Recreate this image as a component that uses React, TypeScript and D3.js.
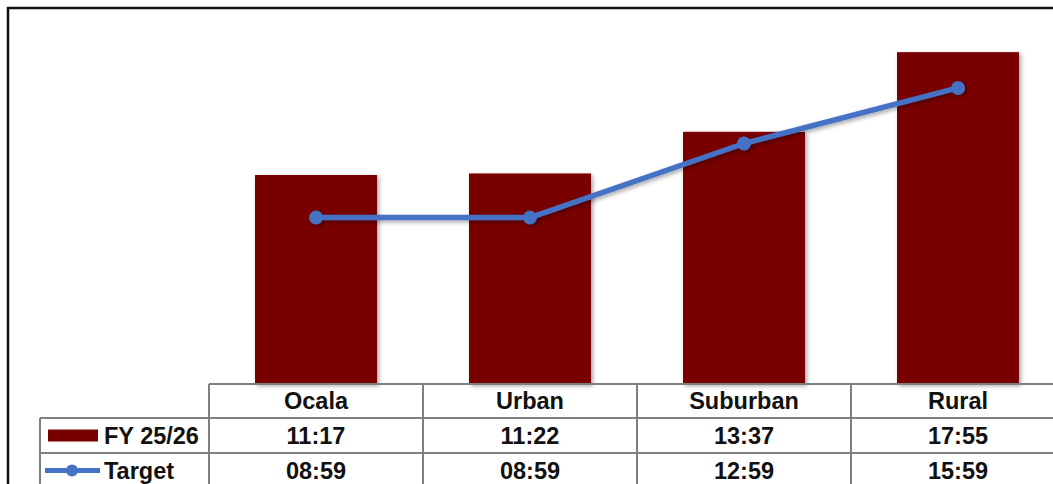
import React from "react";
import * as d3 from "d3";

const categories = ["Ocala", "Urban", "Suburban", "Rural"];
const fyLabels = ["11:17", "11:22", "13:37", "17:55"];
const targetLabels = ["08:59", "08:59", "12:59", "15:59"];
const seriesNames = ["FY 25/26", "Target"];

const toSec = (s: string) => {
  const [m, sec] = s.split(":").map(Number);
  return m * 60 + sec;
};

const W = 1053;
const H = 484;
const plotLeft = 209;
const plotRight = 1065;
const baseY = 384;
const rowTops = [384, 418, 453, 488];
const labelLeft = 40;

export default function App() {
  const x = d3.scaleBand<string>().domain(categories).range([plotLeft, plotRight]).paddingInner(0.43).paddingOuter(0.215);
  const colX = d3.scaleBand<string>().domain(categories).range([plotLeft, plotRight]);
  const y = d3.scaleLinear().domain([0, 1200]).range([baseY, baseY - 1200 * 0.3087]);
  const fy = fyLabels.map(toSec);
  const tg = targetLabels.map(toSec);
  const line = d3
    .line<number>()
    .x((_, i) => (colX(categories[i]) as number) + colX.bandwidth() / 2)
    .y((d) => y(d));
  const red = "#780000";
  const blue = "#4472C4";
  const grid = "#7f7f7f";
  const font = "'Liberation Sans', Arial, sans-serif";
  const fs = 23.5;
  const rowMid = (i: number) => (rowTops[i] + rowTops[i + 1]) / 2;

  return (
    <svg width={W} height={H} style={{ position: "absolute", left: 0, top: 0 }}>
      <defs>
        <filter id="sh" x="-20%" y="-20%" width="140%" height="140%">
          <feDropShadow dx="2" dy="2" stdDeviation="2" floodColor="#000" floodOpacity="0.35" />
        </filter>
      </defs>
      <rect x={0} y={0} width={W} height={H} fill="#fff" />
      <rect x={8} y={8} width={1200} height={600} fill="none" stroke="#111" strokeWidth={2.5} />
      {categories.map((c, i) => (
        <rect key={c} x={x(c)} y={y(fy[i])} width={x.bandwidth()} height={baseY - y(fy[i])} fill={red} filter="url(#sh)" />
      ))}
      <g filter="url(#sh)">
        <path d={line(tg) || ""} fill="none" stroke={blue} strokeWidth={5.5} strokeLinejoin="round" />
        {tg.map((v, i) => (
          <circle key={i} cx={(colX(categories[i]) as number) + colX.bandwidth() / 2} cy={y(v)} r={7} fill={blue} />
        ))}
      </g>
      {/* table grid */}
      <g stroke={grid} strokeWidth={2} fill="none">
        <line x1={plotLeft} x2={plotRight} y1={rowTops[0]} y2={rowTops[0]} />
        <line x1={labelLeft} x2={plotRight} y1={rowTops[1]} y2={rowTops[1]} />
        <line x1={labelLeft} x2={plotRight} y1={rowTops[2]} y2={rowTops[2]} />
        <line x1={labelLeft} x2={plotRight} y1={rowTops[3]} y2={rowTops[3]} />
        <line x1={labelLeft} x2={labelLeft} y1={rowTops[1]} y2={rowTops[3]} />
        {categories.map((c) => (
          <line key={c} x1={colX(c)} x2={colX(c)} y1={rowTops[0]} y2={rowTops[3]} />
        ))}
        <line x1={plotRight} x2={plotRight} y1={rowTops[0]} y2={rowTops[3]} />
      </g>
      <g fontFamily={font} fontWeight="bold" fontSize={fs} fill="#111" textAnchor="middle">
        {categories.map((c, i) => (
          <g key={c}>
            <text x={(colX(c) as number) + colX.bandwidth() / 2} y={rowMid(0)} dy="0.36em">{c}</text>
            <text x={(colX(c) as number) + colX.bandwidth() / 2} y={rowMid(1)} dy="0.36em">{fyLabels[i]}</text>
            <text x={(colX(c) as number) + colX.bandwidth() / 2} y={rowMid(2)} dy="0.36em">{targetLabels[i]}</text>
          </g>
        ))}
      </g>
      <rect x={48} y={rowMid(1) - 6} width={50} height={12} fill={red} />
      <line x1={45} x2={100} y1={rowMid(2)} y2={rowMid(2)} stroke={blue} strokeWidth={5} />
      <circle cx={72} cy={rowMid(2)} r={6} fill={blue} />
      <g fontFamily={font} fontWeight="bold" fontSize={fs} fill="#111">
        <text x={104} y={rowMid(1)} dy="0.36em">{seriesNames[0]}</text>
        <text x={104} y={rowMid(2)} dy="0.36em">{seriesNames[1]}</text>
      </g>
    </svg>
  );
}
